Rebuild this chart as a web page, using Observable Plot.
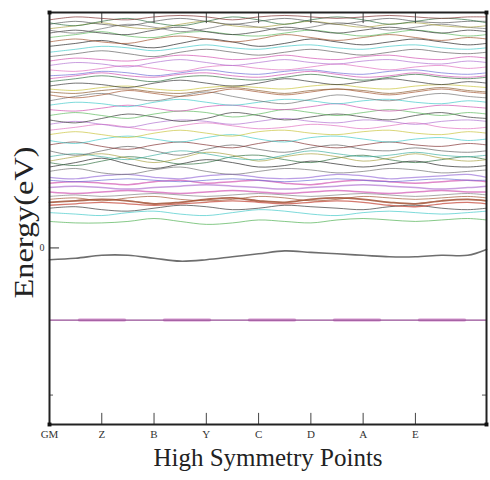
<!DOCTYPE html>
<html>
<head>
<meta charset="utf-8">
<script src="https://cdn.jsdelivr.net/npm/d3@7"></script>
<script src="https://cdn.jsdelivr.net/npm/@observablehq/plot@0.6"></script>
<style>
  html, body { margin: 0; padding: 0; background: #fff; }
  #chart svg { display: block; }
</style>
</head>
<body>
<div id="chart"></div>
<script>
// k-path sample positions (high-symmetry points at integer steps, final end point at 8.36)
const kPoints = [0,0.5,1,1.5,2,2.5,3,3.5,4,4.5,5,5.5,6,6.5,7,7.5,8,8.36];
const kTicks = [0,1,2,3,4,5,6,7,8.36];
const kLabels = ["GM","Z","B","Y","C","D","A","E",""];
const yTicks = [0];
const yMinorTicks = [-1];
const yDomain = [-1.2, 1.6];
const xTitle = "High Symmetry Points";
const yTitle = "Energy(eV)";

// Valence band just below 0 and the deep flat band
const valenceBand = [-0.08,-0.07,-0.05,-0.05,-0.07,-0.09,-0.08,-0.06,-0.04,-0.02,-0.03,-0.04,-0.05,-0.06,-0.06,-0.05,-0.05,-0.01];
const flatBand = [-0.49,-0.49,-0.49,-0.49,-0.49,-0.49,-0.49,-0.49,-0.49,-0.49,-0.49,-0.49,-0.49,-0.49,-0.49,-0.49,-0.49,-0.49];

// Conduction bands (eV)
const conductionBands = [
  [0.18,0.17,0.17,0.18,0.20,0.18,0.16,0.17,0.19,0.18,0.17,0.19,0.20,0.19,0.18,0.19,0.20,0.19],
  [0.24,0.23,0.22,0.24,0.25,0.23,0.22,0.24,0.26,0.25,0.23,0.22,0.24,0.25,0.24,0.23,0.24,0.25],
  [0.27,0.28,0.26,0.25,0.27,0.29,0.28,0.26,0.27,0.29,0.28,0.27,0.26,0.28,0.29,0.27,0.26,0.27],
  [0.29,0.30,0.31,0.30,0.29,0.30,0.31,0.32,0.31,0.30,0.31,0.32,0.31,0.29,0.28,0.30,0.31,0.30],
  [0.31,0.32,0.33,0.32,0.30,0.31,0.33,0.34,0.32,0.31,0.33,0.34,0.33,0.31,0.30,0.32,0.33,0.32],
  [0.33,0.34,0.32,0.34,0.35,0.33,0.32,0.33,0.35,0.34,0.32,0.33,0.35,0.34,0.33,0.34,0.35,0.34],
  [0.35,0.36,0.35,0.36,0.37,0.36,0.35,0.36,0.37,0.36,0.35,0.36,0.37,0.36,0.35,0.36,0.37,0.36],
  [0.38,0.37,0.38,0.39,0.38,0.37,0.38,0.39,0.38,0.37,0.38,0.39,0.38,0.37,0.38,0.39,0.38,0.38],
  [0.41,0.42,0.41,0.40,0.41,0.42,0.43,0.42,0.41,0.40,0.41,0.42,0.43,0.42,0.41,0.40,0.41,0.42],
  [0.44,0.45,0.44,0.43,0.45,0.46,0.44,0.45,0.46,0.44,0.43,0.45,0.46,0.45,0.44,0.45,0.46,0.45],
  [0.46,0.45,0.46,0.47,0.46,0.45,0.46,0.47,0.46,0.45,0.46,0.47,0.46,0.45,0.46,0.47,0.46,0.46],
  [0.48,0.47,0.49,0.50,0.48,0.47,0.49,0.50,0.48,0.47,0.48,0.50,0.49,0.47,0.48,0.49,0.50,0.48],
  [0.52,0.54,0.51,0.50,0.53,0.55,0.52,0.50,0.52,0.54,0.53,0.51,0.52,0.54,0.53,0.51,0.52,0.53],
  [0.55,0.58,0.61,0.57,0.54,0.57,0.60,0.58,0.55,0.56,0.59,0.57,0.55,0.57,0.59,0.56,0.55,0.56],
  [0.58,0.56,0.59,0.62,0.60,0.57,0.58,0.62,0.63,0.60,0.58,0.61,0.63,0.60,0.58,0.60,0.62,0.60],
  [0.59,0.62,0.64,0.61,0.58,0.61,0.65,0.63,0.59,0.62,0.64,0.62,0.59,0.61,0.64,0.61,0.59,0.60],
  [0.62,0.64,0.62,0.60,0.63,0.66,0.64,0.61,0.60,0.63,0.66,0.64,0.62,0.63,0.65,0.63,0.62,0.63],
  [0.66,0.63,0.66,0.69,0.66,0.63,0.67,0.70,0.67,0.65,0.68,0.70,0.67,0.66,0.68,0.66,0.65,0.66],
  [0.70,0.72,0.69,0.67,0.70,0.72,0.70,0.68,0.71,0.73,0.70,0.68,0.70,0.72,0.70,0.69,0.71,0.70],
  [0.73,0.71,0.74,0.76,0.74,0.72,0.75,0.77,0.74,0.72,0.75,0.76,0.74,0.72,0.74,0.75,0.73,0.74],
  [0.77,0.79,0.77,0.75,0.78,0.80,0.78,0.76,0.79,0.80,0.78,0.77,0.79,0.80,0.78,0.77,0.79,0.78],
  [0.80,0.82,0.84,0.82,0.80,0.83,0.85,0.83,0.81,0.82,0.84,0.83,0.81,0.83,0.85,0.82,0.81,0.82],
  [0.84,0.86,0.84,0.82,0.85,0.87,0.86,0.84,0.86,0.88,0.86,0.85,0.87,0.86,0.84,0.86,0.87,0.86],
  [0.87,0.85,0.88,0.91,0.89,0.86,0.88,0.92,0.90,0.87,0.89,0.91,0.89,0.87,0.90,0.92,0.89,0.88],
  [0.90,0.92,0.90,0.88,0.91,0.93,0.92,0.89,0.91,0.94,0.92,0.90,0.92,0.94,0.92,0.90,0.92,0.91],
  [0.94,0.93,0.95,0.97,0.95,0.93,0.96,0.97,0.95,0.94,0.96,0.98,0.95,0.93,0.95,0.97,0.96,0.95],
  [0.97,0.99,0.98,0.96,0.99,1.01,0.99,0.97,0.99,1.01,1.00,0.98,1.00,1.01,0.99,0.98,1.00,0.99],
  [1.00,1.03,1.05,1.02,1.00,1.03,1.06,1.03,1.00,0.98,1.01,1.04,1.02,1.00,1.03,1.05,1.03,1.02],
  [1.04,1.02,1.04,1.07,1.05,1.03,1.05,1.08,1.06,1.04,1.06,1.08,1.06,1.04,1.06,1.08,1.06,1.05],
  [1.06,1.05,1.07,1.08,1.06,1.05,1.07,1.09,1.07,1.05,1.07,1.08,1.07,1.05,1.07,1.09,1.07,1.06],
  [1.08,1.07,1.09,1.10,1.08,1.07,1.09,1.10,1.09,1.08,1.10,1.11,1.09,1.08,1.10,1.11,1.10,1.09],
  [1.10,1.12,1.11,1.09,1.12,1.14,1.12,1.10,1.12,1.15,1.13,1.11,1.13,1.15,1.13,1.11,1.13,1.12],
  [1.13,1.15,1.17,1.15,1.13,1.16,1.17,1.15,1.14,1.16,1.18,1.16,1.14,1.16,1.18,1.16,1.15,1.16],
  [1.15,1.17,1.19,1.17,1.16,1.18,1.19,1.17,1.16,1.18,1.20,1.18,1.16,1.17,1.19,1.17,1.16,1.17],
  [1.17,1.18,1.20,1.19,1.17,1.19,1.21,1.19,1.18,1.20,1.21,1.19,1.18,1.20,1.21,1.19,1.18,1.19],
  [1.21,1.20,1.22,1.24,1.22,1.20,1.23,1.24,1.22,1.21,1.23,1.25,1.23,1.21,1.23,1.24,1.22,1.23],
  [1.24,1.26,1.25,1.23,1.26,1.28,1.26,1.24,1.26,1.28,1.26,1.25,1.27,1.28,1.26,1.25,1.27,1.26],
  [1.27,1.29,1.28,1.27,1.29,1.31,1.30,1.28,1.29,1.31,1.29,1.28,1.30,1.31,1.29,1.28,1.30,1.29],
  [1.30,1.32,1.34,1.32,1.30,1.33,1.35,1.33,1.31,1.33,1.35,1.33,1.31,1.33,1.35,1.33,1.32,1.33],
  [1.33,1.35,1.37,1.36,1.34,1.36,1.38,1.36,1.35,1.37,1.38,1.36,1.35,1.37,1.38,1.36,1.35,1.36],
  [1.37,1.39,1.41,1.38,1.36,1.39,1.42,1.40,1.37,1.39,1.42,1.40,1.38,1.40,1.42,1.40,1.38,1.39],
  [1.40,1.42,1.40,1.39,1.42,1.44,1.42,1.40,1.42,1.45,1.43,1.41,1.43,1.45,1.43,1.41,1.43,1.42],
  [1.43,1.45,1.47,1.44,1.43,1.46,1.47,1.45,1.44,1.46,1.48,1.46,1.44,1.46,1.48,1.46,1.44,1.45],
  [1.46,1.48,1.46,1.45,1.48,1.50,1.47,1.45,1.47,1.50,1.48,1.46,1.48,1.50,1.48,1.46,1.48,1.47],
  [1.48,1.46,1.49,1.52,1.50,1.47,1.49,1.52,1.50,1.48,1.50,1.53,1.51,1.48,1.50,1.52,1.50,1.49],
  [1.49,1.51,1.53,1.50,1.49,1.52,1.54,1.51,1.50,1.52,1.54,1.52,1.50,1.52,1.53,1.51,1.50,1.51],
  [1.52,1.54,1.52,1.51,1.54,1.56,1.54,1.52,1.54,1.56,1.54,1.52,1.54,1.56,1.54,1.53,1.54,1.54],
  [1.53,1.51,1.54,1.56,1.53,1.51,1.54,1.57,1.55,1.52,1.55,1.57,1.55,1.52,1.54,1.56,1.55,1.53],
  [1.55,1.57,1.56,1.55,1.57,1.58,1.57,1.55,1.57,1.58,1.57,1.56,1.57,1.58,1.57,1.56,1.57,1.57]
];

// Line colours (style only), xmgrace-like palette
const bandColors = [
  "#4caf50","#40c8c8","#333333","#c0392b","#8b2500","#a0522d","#808080","#d050b0",
  "#b070d0","#d050b0","#6b6bd6","#9a70d8","#707070","#222222","#2f6f3f","#a8a040",
  "#40b0a0","#606060","#803030","#40c8c8","#c8c23a","#e070c0","#b070d0","#333333",
  "#5cb85c","#d050b0","#40c8c8","#707070","#a0522d","#8b5a2b","#c8c23a","#333333",
  "#2f6f3f","#d050b0","#6b6bd6","#e070c0","#b070d0","#d050b0","#606060","#40c8c8",
  "#222222","#a0522d","#5cb85c","#333333","#707070","#a8a040","#555555","#2f6f3f","#803030"
];
const bandWidths = [1,1,1,1.3,1.8,1,1,1.5,1.5,1.5,1,1.2];

const rows = conductionBands.flatMap((band, i) =>
  band.map((e, j) => ({k: kPoints[j], e, band: i, color: bandColors[i % bandColors.length], w: bandWidths[i] ?? 1}))
);
const valenceRows = valenceBand.map((e, j) => ({k: kPoints[j], e}));
const flatRows = flatBand.map((e, j) => ({k: kPoints[j], e}));

const xMin = kTicks[0], xMax = kTicks[kTicks.length - 1];
const [yMin, yMax] = yDomain;
const tickLenY = (yMax - yMin) * 0.027;
const tickLenX = (xMax - xMin) * 0.023;

const chart = Plot.plot({
  width: 490,
  height: 480,
  marginTop: 12,
  marginRight: 4,
  marginBottom: 56,
  marginLeft: 49,
  style: {fontFamily: "'Liberation Serif', 'DejaVu Serif', serif", background: "#fff"},
  x: {domain: [xMin, xMax]},
  y: {domain: yDomain},
  color: {type: "identity"},
  marks: [
    Plot.line(rows, {x: "k", y: "e", z: "band", stroke: "color", strokeWidth: "w", strokeOpacity: 0.68, curve: "catmull-rom"}),
    Plot.line(valenceRows, {x: "k", y: "e", stroke: "#555", strokeWidth: 1.6, strokeOpacity: 0.85, curve: "catmull-rom"}),
    Plot.line(flatRows, {x: "k", y: "e", stroke: "#d080c8", strokeWidth: 3.5, strokeOpacity: 0.55, strokeDasharray: "45,40", strokeDashoffset: -30}),
    Plot.line(flatRows, {x: "k", y: "e", stroke: "#8a3a8a", strokeWidth: 1.2, strokeOpacity: 0.9}),
    // inward ticks on bottom and top
    Plot.ruleX(kTicks, {y1: yMin, y2: yMin + tickLenY, stroke: "#444", strokeWidth: 1}),
    Plot.ruleX(kTicks, {y1: yMax, y2: yMax - tickLenY, stroke: "#444", strokeWidth: 1}),
    // inward ticks on the energy axis
    Plot.ruleY(yTicks, {x1: xMin, x2: xMin + tickLenX, stroke: "#333", strokeWidth: 1}),
    Plot.ruleY(yMinorTicks, {x1: xMin, x2: xMin + tickLenX * 0.4, stroke: "#555", strokeWidth: 1}),
    Plot.ruleY(yMinorTicks, {x1: xMax, x2: xMax - tickLenX * 0.4, stroke: "#555", strokeWidth: 1}),
    Plot.axisX(kTicks, {tickSize: 0, tickPadding: 6, fontSize: 11, fill: "#333", tickFormat: (d, i) => kLabels[i], label: null}),
    Plot.axisY(yTicks, {tickSize: 0, tickPadding: 5, fontSize: 10, fill: "#333", tickFormat: d => String(d), label: null}),
    Plot.text([xTitle], {frameAnchor: "bottom", dy: 41, fontSize: 25, fill: "#222", text: d => d}),
    Plot.text([yTitle], {frameAnchor: "left", textAnchor: "middle", dx: -25, dy: 4, rotate: -90, fontSize: 28, fill: "#222", text: d => d, className: "ylabel"}),
    Plot.frame({stroke: "#222", strokeWidth: 2}),
    Plot.dot([[xMin, yMin], [xMin, yMax], [xMax, yMin], [xMax, yMax]], {x: d => d[0], y: d => d[1], symbol: "square", r: 2.2, fill: "#111"})
  ]
});
document.getElementById("chart").appendChild(chart);
// stretch the energy label to the reference's length
d3.select(chart).selectAll(".ylabel text").attr("textLength", 152).attr("lengthAdjust", "spacingAndGlyphs");
</script>
</body>
</html>
